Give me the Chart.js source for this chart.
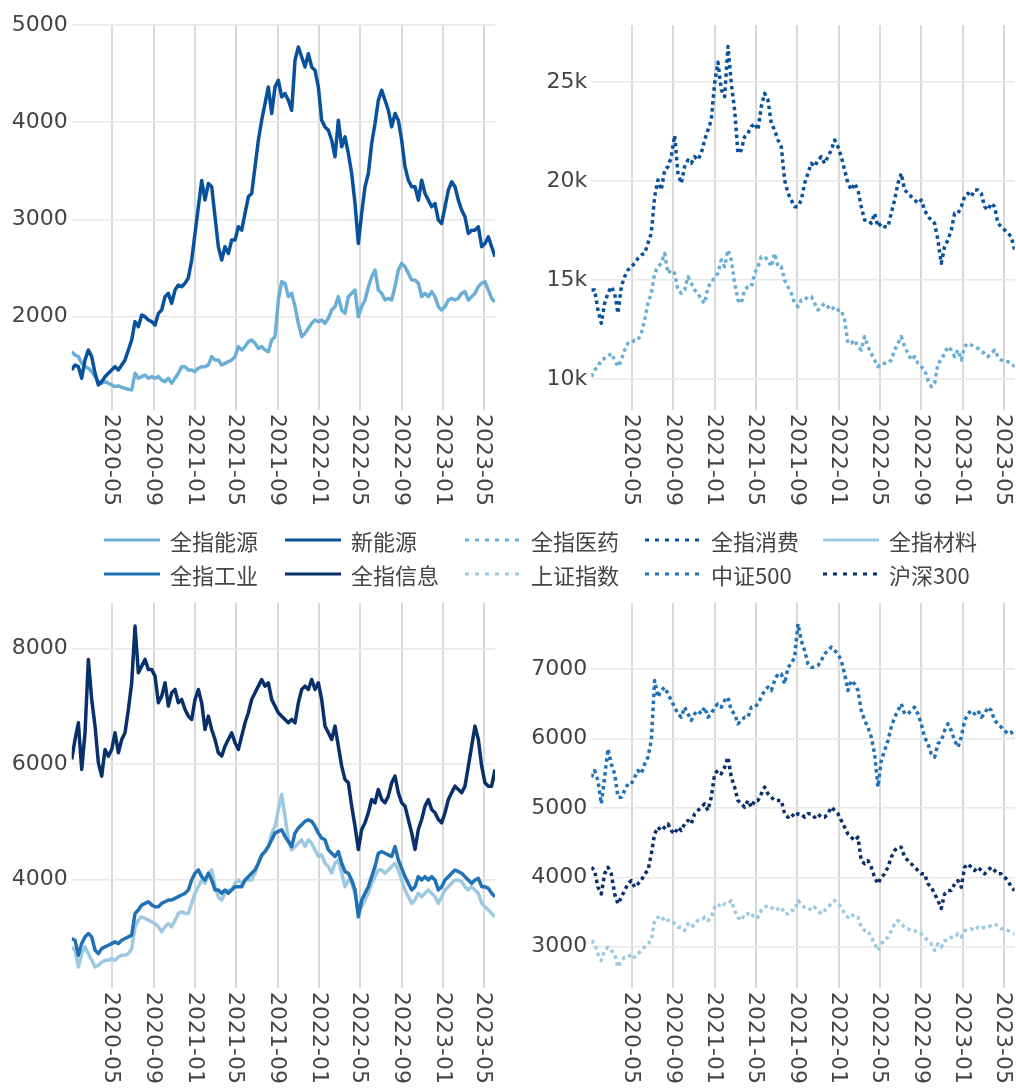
<!DOCTYPE html>
<html>
<head>
<meta charset="utf-8">
<script src="https://cdn.jsdelivr.net/npm/chart.js@4.4.0/dist/chart.umd.min.js"></script>
<style>
  html, body { margin: 0; padding: 0; background: #fff; }
  #page { position: relative; width: 1016px; height: 1088px; overflow: hidden; }
  canvas { position: absolute; }
  .item { position: absolute; height: 32px; display: flex; align-items: center; white-space: nowrap; }
  .item span { margin-left: 10px; font: 22px "Noto Sans CJK SC", sans-serif; color: #444; }
</style>
</head>
<body>
<div id="page">
  <canvas id="tl" width="508" height="520" style="left:0;top:0;width:508px;height:520px"></canvas>
  <canvas id="tr" width="508" height="520" style="left:508px;top:0;width:508px;height:520px"></canvas>
  <canvas id="bl" width="508" height="568" style="left:0;top:520px;width:508px;height:568px"></canvas>
  <canvas id="br" width="508" height="568" style="left:508px;top:520px;width:508px;height:568px"></canvas>
  <div id="legend"></div>
</div>
<script>
// sample dates: one reading roughly every 10 days
const firstDate = '2020-01-03';
const stepDays = 9.814;

const tickLabels = ['2020-05', '2020-09', '2021-01', '2021-05', '2021-09',
                    '2022-01', '2022-05', '2022-09', '2023-01', '2023-05'];

// top left
const nengyuan = [1640,1606,1589,1520,1486,1469,1435,1383,1332,1315,
  1332,1315,1298,1281,1288,1274,1263,1253,1246,1418,
  1366,1383,1400,1366,1383,1366,1383,1349,1332,1366,
  1315,1366,1418,1486,1486,1452,1452,1435,1469,1486,
  1486,1503,1589,1555,1555,1503,1520,1537,1555,1589,
  1692,1657,1692,1743,1760,1726,1674,1692,1657,1640,
  1760,1794,2171,2360,2343,2206,2240,2103,1931,1794,
  1828,1880,1931,1966,1948,1966,1931,1983,2069,2103,
  2206,2069,2034,2206,2240,2274,2000,2103,2171,2308,
  2411,2480,2274,2240,2171,2188,2171,2308,2480,2548,
  2514,2445,2377,2377,2343,2206,2240,2206,2257,2206,
  2103,2069,2103,2171,2188,2171,2188,2240,2257,2171,
  2206,2240,2308,2343,2360,2274,2188,2154];
const xinnengyuan = [1452,1503,1486,1366,1555,1657,1589,1418,1298,1332,
  1383,1418,1452,1486,1452,1503,1555,1657,1760,1949,
  1897,2017,2000,1966,1949,1914,2034,2069,2206,2240,
  2137,2274,2325,2308,2343,2400,
  2582,2856,3130,3400,3200,3370,3336,3027,2719,2582,
  2719,2650,2788,2788,2925,2890,3062,3233,3267,3541,
  3815,4021,4192,4363,4089,4363,4432,4260,4295,4226,
  4123,4637,4774,4671,4568,4705,4568,4534,4363,4021,
  3952,3918,3815,3644,4021,3747,3849,3678,3473,3164,
  2753,3062,3336,3473,3781,3986,4226,4329,4226,4123,
  3952,4089,4021,3815,3541,3404,3336,3336,3199,3404,
  3267,3199,3130,3164,2993,2959,3130,3301,3387,3336,
  3199,3096,3027,2856,2890,2890,2925,2719,2753,2822,
  2719,2616];

// top right
const yiyao = [10109,10446,10615,10952,11036,11120,11289,10952,10615,10952,
  11457,11794,11794,11963,11963,12300,12974,13816,14322,15333,
  15670,15838,16344,15333,15501,15333,14490,14322,14490,15164,
  14827,14490,14322,13985,13816,14659,14827,15164,15333,16007,
  15670,16512,16007,14827,13985,13816,14490,14659,14659,15333,
  15670,16175,16175,16007,15670,16344,15670,15670,14996,14659,
  14322,13816,13648,13985,13985,14153,14153,13816,13479,13648,
  13816,13648,13479,13648,13479,13479,12974,11794,11794,11963,
  11626,11457,12131,11626,11289,10952,10615,10783,10783,10783,
  10952,11457,11794,12131,11626,11289,10952,11120,10783,10615,
  10446,9941,9604,9772,10783,10952,11289,11626,11457,11120,
  11457,10952,11626,11794,11710,11626,11541,11373,11289,11120,
  11289,11457,11120,10952,10868,10868,10783,10615];
const xiaofei = [14490,14490,13479,12805,13816,14322,14659,14322,13311,14659,
  15164,15501,15670,15838,16091,16259,16344,16850,17355,19208,
  20051,19545,20556,20725,21230,22300,20388,19882,20725,21062,
  20893,21230,21062,21399,22073,22578,23084,24937,26000,24600,
  24263,26800,24937,23589,21399,21567,22241,22410,22747,22915,
  22578,23758,24432,24095,22915,22578,22073,21736,20051,19377,
  19040,18703,18703,19040,19882,20388,20893,20725,21062,21230,
  20893,21230,21567,22073,21736,21230,20556,19882,19545,19882,
  19545,18703,18029,18029,17860,18366,17692,17860,17692,17692,
  18366,19040,19882,20388,19545,19377,19208,19040,18871,19040,
  18534,18197,18029,17860,17018,15838,16681,17018,17523,18366,
  18366,18703,19208,19377,19208,19545,19545,19377,18703,18534,
  18871,18703,17860,17692,17523,17355,17186,16512];

// bottom left
const cailiao = [2829,2771,2481,2713,2829,2713,2597,2481,2510,2568,
  2597,2597,2626,2597,2655,2684,2684,2713,2800,3177,
  3293,3351,3322,3293,3264,3235,3177,3090,3177,3235,
  3177,3293,3409,3438,3409,3409,3583,3757,3872,3988,
  3930,4104,4162,3872,3699,3641,3757,3815,3815,3930,
  3988,3930,3988,3988,3988,4104,4278,4394,4481,4568,
  4800,4916,5206,5467,5090,4684,4510,4568,4626,4684,
  4568,4684,4626,4510,4394,4423,4278,4220,4104,4278,
  4336,4104,3872,3988,3930,3757,3467,3525,3641,3757,
  3930,4046,4162,4162,4104,4162,4220,4278,4162,3988,
  3815,3699,3583,3641,3757,3699,3757,3815,3757,3699,
  3583,3699,3815,3872,3930,3988,3988,3959,3872,3815,
  3872,3815,3757,3583,3525,3467,3409,3351];
const gongye = [2974,2945,2684,2887,3003,3061,3003,2771,2713,2800,
  2829,2858,2887,2916,2887,2945,2974,3003,3032,3409,
  3467,3554,3583,3612,3554,3525,3525,3583,3612,3641,
  3641,3670,3699,3728,3757,3815,3988,4104,4162,4046,
  3988,4104,3988,3815,3815,3757,3815,3757,3815,3872,
  3872,3872,3988,4046,4104,4162,4278,4423,4481,4568,
  4684,4800,4829,4858,4742,4655,4568,4800,4887,4945,
  5003,5032,5003,4916,4800,4713,4684,4510,4452,4394,
  4481,4278,4133,4104,3988,3815,3351,3641,3757,3872,
  4046,4220,4452,4481,4452,4423,4394,4568,4336,4191,
  4046,3930,3815,3872,4046,3988,4046,3988,4046,3988,
  3815,3872,3988,4046,4104,4162,4133,4104,4046,3988,
  3930,3988,4017,3872,3872,3843,3757,3699];
const xinxi = [6075,6421,6710,5902,6537,7807,7114,6652,6017,5786,
  6248,6133,6248,6537,6190,6421,6537,6941,7403,8384,
  7576,7691,7807,7633,7633,7518,7056,7172,7403,6999,
  7229,7287,7056,7114,6941,6825,6768,7114,7287,7056,
  6595,6825,6595,6421,6190,6133,6306,6421,6537,6364,
  6248,6479,6710,6883,7114,7229,7345,7460,7345,7403,
  7114,6999,6883,6825,6768,6710,6768,6710,7056,7287,
  7345,7287,7460,7287,7403,7114,6652,6537,6421,6652,
  6306,5960,5729,5671,5267,4921,4517,4863,4978,5152,
  5382,5325,5556,5382,5325,5440,5671,5786,5498,5325,
  5267,5036,4805,4517,4863,5036,5267,5382,5209,5152,
  5036,4978,5152,5382,5498,5613,5556,5498,5613,5960,
  6306,6652,6421,5960,5671,5613,5613,5902];

// bottom right
const shangzheng = [3089,3041,2897,2801,2945,2993,2945,2897,2705,2801,
  2849,2849,2897,2849,2897,2945,2993,3041,3089,3377,
  3425,3377,3425,3377,3377,3329,3281,3281,3233,3329,
  3281,3329,3377,3377,3425,3377,3425,3569,3617,3569,
  3617,3617,3665,3521,3425,3377,3473,3473,3425,3473,
  3425,3521,3569,3593,3569,3521,3545,3569,3473,3473,
  3521,3521,3665,3617,3569,3569,3521,3569,3521,3473,
  3521,3569,3617,3665,3617,3569,3473,3425,3473,3425,
  3425,3281,3233,3233,3137,3041,2945,3041,3089,3137,
  3233,3329,3377,3329,3281,3257,3233,3233,3185,3185,
  3137,3089,3041,2945,3041,2993,3089,3089,3137,3137,
  3185,3137,3233,3233,3257,3233,3281,3257,3281,3281,
  3305,3329,3305,3257,3257,3233,3209,3185];
const zz500 = [5442,5538,5394,5058,5442,5850,5634,5490,5154,5154,
  5250,5346,5346,5442,5538,5490,5634,5730,5970,6834,
  6594,6690,6738,6642,6546,6450,6354,6306,6450,6354,
  6258,6354,6402,6354,6450,6306,6354,6450,6498,6450,
  6546,6594,6402,6354,6210,6258,6306,6306,6450,6450,
  6498,6594,6690,6738,6690,6834,6930,6930,6786,7026,
  7074,7170,7650,7411,7267,7074,7026,7026,7050,7122,
  7218,7267,7315,7267,7218,7122,6930,6690,6834,6786,
  6690,6402,6258,6162,6018,5778,5300,5682,5826,5970,
  6162,6306,6402,6498,6354,6354,6402,6450,6354,6210,
  6018,5922,5778,5730,5922,5970,6114,6210,6114,5970,
  5874,6018,6258,6354,6402,6354,6402,6306,6354,6450,
  6402,6258,6210,6162,6114,6066,6090,6018];
const hs300 = [4145,4097,3857,3761,4049,4145,4049,3761,3617,3713,
  3809,3905,3953,3857,3905,3953,4049,4097,4337,4625,
  4721,4673,4721,4769,4673,4625,4721,4673,4769,4818,
  4769,4914,4962,5010,5058,4962,5154,5490,5538,5490,
  5586,5730,5442,5298,5106,5058,5010,5106,5010,5106,
  5106,5202,5298,5202,5154,5106,5106,5106,4914,4866,
  4914,4866,4914,4914,4866,4914,4914,4866,4914,4866,
  4866,4914,5010,4962,4914,4818,4721,4625,4577,4529,
  4577,4241,4193,4241,4145,4001,3905,4001,4049,4145,
  4289,4385,4433,4433,4289,4241,4193,4145,4097,4049,
  4049,3905,3857,3761,3665,3550,3761,3809,3809,3905,
  3953,3857,4145,4193,4145,4097,4145,4097,4049,4097,
  4145,4097,4049,4049,4001,3953,3857,3809];

const DAY = 86400000;
const t0 = Date.parse(firstDate);
const xVals = nengyuan.map((_, k) => t0 + k * stepDays * DAY);

const FONT = 'DejaVu Sans';
const TEXT = '#444';

// x tick labels read top to bottom under each plot
const rotatedTicks = {
    id: 'rotatedTicks',
    afterDraw(chart) {
        const ctx = chart.ctx;
        const xs = chart.scales.x;
        const bottom = chart.chartArea.bottom;
        ctx.save();
        ctx.font = '22px "' + FONT + '"';
        ctx.fillStyle = TEXT;
        ctx.textAlign = 'left';
        ctx.textBaseline = 'middle';
        tickLabels.forEach(lab => {
            const x = xs.getPixelForValue(Date.parse(lab + '-01'));
            ctx.save();
            ctx.translate(x, bottom + 4);
            ctx.rotate(Math.PI / 2);
            ctx.fillText(lab, 0, 1);
            ctx.restore();
        });
        ctx.restore();
    }
};

function line(label, values, color, dotted) {
    return {
        label: label,
        data: values.map((v, k) => ({ x: xVals[k], y: v })),
        borderColor: color,
        borderWidth: dotted ? 3.5 : 3.5,
        borderDash: dotted ? [3.5, 3.5] : [],
        borderCapStyle: 'butt',
        borderJoinStyle: 'round',
        pointRadius: 0,
        tension: 0,
        fill: false,
        dotted: dotted
    };
}

function makeChart(id, cw, ch, area, series, yMin, yMax, yTicks, yFmt) {
    // later series are drawn on top
    series.forEach((s, i) => { s.order = series.length - i; });
    return new Chart(document.getElementById(id), {
        type: 'line',
        data: { datasets: series },
        options: {
            responsive: false,
            animation: false,
            devicePixelRatio: 1,
            layout: { padding: { left: 0, top: area.top, right: cw - area.right, bottom: ch - area.bottom } },
            plugins: { legend: { display: false }, tooltip: { enabled: false } },
            scales: {
                x: {
                    type: 'linear',
                    min: xVals[0],
                    max: xVals[xVals.length - 1],
                    afterBuildTicks: s => { s.ticks = tickLabels.map(l => ({ value: Date.parse(l + '-01') })); },
                    afterFit: s => { s.height = 0; },
                    grid: { color: '#d9d9d9', lineWidth: 2, drawTicks: false },
                    border: { display: false },
                    ticks: { display: false }
                },
                y: {
                    min: yMin,
                    max: yMax,
                    afterBuildTicks: s => { s.ticks = yTicks.map(v => ({ value: v })); },
                    afterFit: s => { s.width = area.left; },
                    grid: { color: '#e8e8e8', lineWidth: 1.5, drawTicks: false },
                    border: { display: false },
                    ticks: { padding: 4, color: TEXT, font: { family: FONT, size: 22 }, callback: yFmt }
                }
            }
        },
        plugins: [rotatedTicks]
    });
}

const plain = v => String(v);
const thousands = v => (v / 1000) + 'k';

const sNengyuan = line('全指能源', nengyuan, '#6baed6', false);
const sXinnengyuan = line('新能源', xinnengyuan, '#08519c', false);
const sYiyao = line('全指医药', yiyao, '#6baed6', true);
const sXiaofei = line('全指消费', xiaofei, '#08519c', true);
const sCailiao = line('全指材料', cailiao, '#9ecae1', false);
const sGongye = line('全指工业', gongye, '#2171b5', false);
const sXinxi = line('全指信息', xinxi, '#08306b', false);
const sShangzheng = line('上证指数', shangzheng, '#9ecae1', true);
const sZz500 = line('中证500', zz500, '#2171b5', true);
const sHs300 = line('沪深300', hs300, '#08306b', true);

makeChart('tl', 508, 520, { left: 71.7, top: 25, right: 495, bottom: 410 },
    [sNengyuan, sXinnengyuan], 1040, 5000, [2000, 3000, 4000, 5000], plain);
makeChart('tr', 508, 520, { left: 83.3, top: 25, right: 506.6, bottom: 410 },
    [sYiyao, sXiaofei], 8424, 27886, [10000, 15000, 20000, 25000], thousands);
makeChart('bl', 508, 568, { left: 71.7, top: 83, right: 495, bottom: 468 },
    [sCailiao, sGongye, sXinxi], 2118, 8784, [4000, 6000, 8000], plain);
makeChart('br', 508, 568, { left: 83.3, top: 83, right: 506.6, bottom: 468 },
    [sShangzheng, sZz500, sHs300], 2405, 7951, [3000, 4000, 5000, 6000, 7000], plain);

// shared legend, two rows of five
const legendOrder = [sNengyuan, sXinnengyuan, sYiyao, sXiaofei, sCailiao,
                     sGongye, sXinxi, sShangzheng, sZz500, sHs300];
const legendCols = [104, 285, 465, 645, 823];
const legendRows = [540, 574];
const legend = document.getElementById('legend');
legendOrder.forEach((s, i) => {
    const div = document.createElement('div');
    div.className = 'item';
    div.style.left = legendCols[i % 5] + 'px';
    div.style.top = (legendRows[Math.floor(i / 5)] - 16) + 'px';
    const dash = s.dotted ? ' stroke-dasharray="4,6"' : '';
    div.innerHTML = '<svg width="56" height="8"><line x1="0" y1="4" x2="56" y2="4" stroke="' +
        s.borderColor + '" stroke-width="3"' + dash + '/></svg><span>' + s.label + '</span>';
    legend.appendChild(div);
});
</script>
</body>
</html>
